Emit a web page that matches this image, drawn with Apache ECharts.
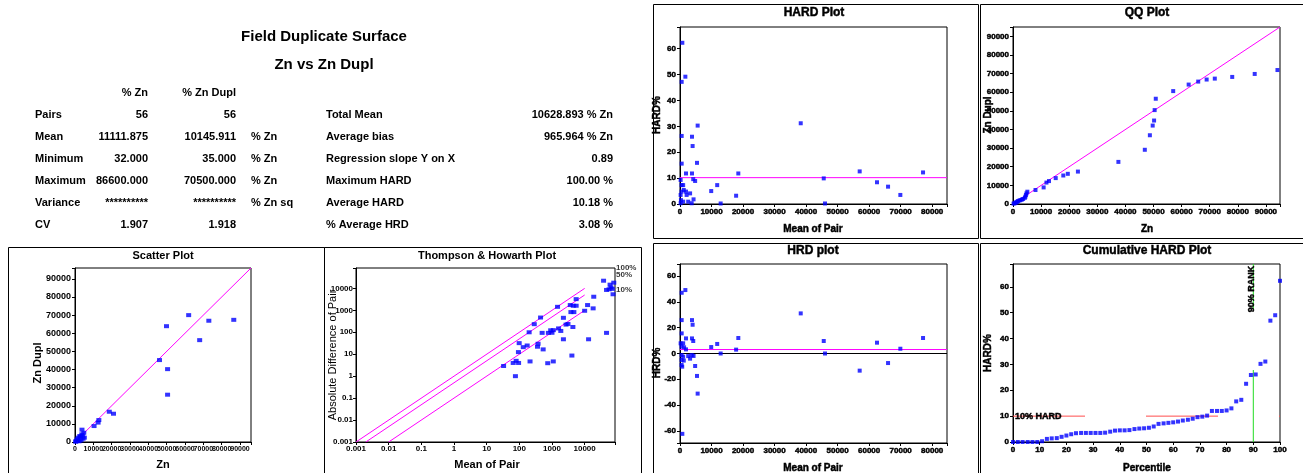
<!DOCTYPE html>
<html>
<head>
<meta charset="utf-8">
<title>Field Duplicate Surface - Zn vs Zn Dupl</title>
<script src="https://cdn.jsdelivr.net/npm/echarts@6/dist/echarts.min.js"></script>
<style>
  html, body { margin: 0; padding: 0; background: #fff; }
  #chart { width: 1303px; height: 473px; }
</style>
</head>
<body>
<div id="chart"></div>
<script>
// ---------- summary statistics ----------
const averageHARD = 10.18;
const averageHRD = 3.08;
const statHeaders = ['% Zn', '% Zn Dupl'];
const statLabels = ['Pairs', 'Mean', 'Minimum', 'Maximum', 'Variance', 'CV'];
const statZn = ['56', '11111.875', '32.000', '86600.000', '**********', '1.907'];
const statZnDupl = ['56', '10145.911', '35.000', '70500.000', '**********', '1.918'];
const statUnits = ['', '% Zn', '% Zn', '% Zn', '% Zn sq', ''];
const summaryLabels = ['Total Mean', 'Average bias', 'Regression slope Y on X', 'Maximum HARD', 'Average HARD', '% Average HRD'];
const summaryValues = ['10628.893 % Zn', '965.964 % Zn', '0.89', '100.00 %', averageHARD.toFixed(2) + ' %', averageHRD.toFixed(2) + ' %'];

// ---------- axis extents ----------
const scatterMax = 96000;
const thompsonMin = 0.001, thompsonMax = 85000;
const meanMax = 84700;
const hardMax = 68.4;
const qqMax = 95000;
const hrdLimit = 69.4;
const cumMax = 68.8;

// ---------- scatter plot: [Zn, Zn Dupl] ----------
const scatterPairs = [
  [62000, 70000], [49900, 63900], [73000, 66900], [86600, 67400], [68000, 56200],
  [46100, 45200], [50500, 40200], [50500, 26100], [18700, 16700], [21000, 15600],
  [13000, 12100], [12600, 10700], [10400, 8800], [3800, 6800], [4800, 5100],
  [5100, 2400], [1800, 2400], [2600, 3300], [3700, 4200], [1100, 1500],
  [550, 550], [4400, 1800], [3300, 900], [400, 100], [2200, 400],
  [3000, 2800], [4200, 3600], [1500, 700]
];
const scatterDiagonal = [[0, 0], [scatterMax, scatterMax]];

// ---------- Thompson & Howarth: [mean of pair, absolute difference] ----------
const thompsonPairs = [
  [33, 2.9], [76, 1.0], [65, 4.0], [80, 5.0], [95, 4.0], [99, 32], [94, 12.5],
  [132, 21], [174, 25], [200, 100], [213, 4.7], [287, 234], [360, 22], [375, 30],
  [447, 470], [500, 94], [537, 16.6], [741, 3.9], [776, 94], [912, 123], [1000, 95],
  [1100, 125], [1096, 4.7], [1480, 1445], [1590, 150], [1862, 115], [2240, 457],
  [2240, 48], [2690, 224], [3090, 240], [3630, 1740], [3800, 832], [4070, 8.7],
  [4365, 174], [4677, 832], [4500, 1620], [5500, 1620], [5500, 3240], [10000, 955],
  [12300, 1740], [13200, 48], [18200, 1230], [19000, 4170], [38000, 22400],
  [46800, 94], [46800, 8500], [56000, 9100], [60000, 14800], [64000, 11000],
  [74000, 5400], [78000, 18200], [70000, 9500]
];
const precisionLines = [
  [[0.001, 0.001], [10000, 10000]],
  [[0.002, 0.001], [10000, 5000]],
  [[0.01, 0.001], [10000, 1000]]
];
const precisionNames = ['100%', '50%', '10%'];
const precisionAnchors = [[85000, 85000], [85000, 42500], [85000, 8500]];

// ---------- HARD plot: [mean of pair, HARD %] ----------
const hardPairs = [
  [740, 62.3], [530, 47.2], [1700, 49.2], [530, 26.3], [530, 15.6], [5600, 30.3],
  [3800, 26.0], [4000, 22.4], [5400, 15.9], [1900, 11.8], [3800, 11.8], [4200, 9.6],
  [4800, 8.9], [9900, 5.0], [11800, 7.3], [12900, 0.2], [17800, 3.2], [18500, 11.8],
  [38300, 31.2], [45600, 9.9], [46000, 0.2], [57000, 12.6], [62500, 8.4], [66000, 6.7],
  [69900, 3.5], [77100, 12.2], [4300, 1.8], [3200, 4.1], [200, 9.3], [500, 7.3],
  [1000, 7.3], [1200, 5.4], [500, 4.8], [1900, 4.8], [200, 3.5], [2100, 3.5],
  [300, 1.5], [1000, 0.9], [2600, 0.9], [200, 0.3], [3700, 0.3]
];

// ---------- QQ plot: [Zn quantile, Zn Dupl quantile] ----------
const qqPairs = [
  [94100, 71900], [86000, 69800], [78000, 68200], [71800, 67300], [68900, 66800],
  [65900, 65700], [62500, 64100], [57000, 60600], [50800, 56500], [50400, 50400],
  [50200, 44800], [49700, 42100], [48700, 36900], [46900, 29100], [37500, 22600],
  [23100, 17400], [19500, 16200], [17900, 15300], [15200, 13900], [12800, 12300],
  [11900, 11500], [10900, 8900], [8000, 7500], [5100, 6600], [4800, 5700],
  [4600, 4800], [4400, 3900], [4200, 3300], [3600, 2700], [3200, 2400],
  [2700, 2100], [2300, 1900], [1800, 1600], [1500, 1200], [1200, 900],
  [900, 700], [600, 400], [200, 200]
];
const qqDiagonal = [[0, 0], [qqMax, qqMax]];

// ---------- HRD plot: [mean of pair, HRD %] ----------
const hrdPairs = [
  [530, 47.1], [1700, 49.2], [530, 25.9], [530, 15.6], [3800, 25.9], [4000, 22.3],
  [3800, 11.7], [4200, 9.7], [1900, 11.7], [9900, 5.0], [11800, 7.4], [12900, 0],
  [17800, 3.0], [18500, 12.0], [38300, 31.1], [45600, 9.7], [46000, 0], [57000, -13.3],
  [62500, 8.4], [66000, -7.4], [69900, 3.7], [77100, 12.0], [4800, -9.7], [5400, -17.4],
  [5600, -31.1], [740, -62.3], [3200, -4.0], [4300, -1.9], [200, 7.9], [1000, 7.9],
  [500, 5.3], [1300, 4.8], [1900, 3.2], [500, -1.2], [1000, -2.5], [500, -5],
  [1200, -5.5], [500, -8.9], [700, -10.2], [2600, -2], [3700, -1.2]
];

// ---------- cumulative HARD: [percentile, HARD %] ----------
const cumPercentile = [
  0, 1.8, 3.6, 5.5, 7.3, 9.1, 10.9, 12.7, 14.5, 16.4, 18.2, 20, 21.8, 23.6,
  25.5, 27.3, 29.1, 30.9, 32.7, 34.5, 36.4, 38.2, 40, 41.8, 43.6, 45.5, 47.3, 49.1,
  50.9, 52.7, 54.5, 56.4, 58.2, 60, 61.8, 63.6, 65.5, 67.3, 69.1, 70.9, 72.7, 74.5,
  76.4, 78.2, 80, 81.8, 83.6, 85.5, 87.3, 89.1, 90.9, 92.7, 94.5, 96.4, 98.2, 100
];
const cumHARD = [
  0, 0, 0, 0, 0, 0, 0.3, 1.2, 1.4, 1.5, 2.0, 2.5, 3.0, 3.4,
  3.5, 3.5, 3.5, 3.5, 3.5, 3.6, 4.0, 4.4, 4.5, 4.5, 4.6, 5.0, 5.2, 5.3,
  5.5, 6.0, 7.0, 7.2, 7.4, 7.6, 7.9, 8.3, 8.6, 9.0, 9.6, 9.8, 10.2, 12.0,
  12.0, 12.0, 12.2, 13.0, 15.7, 16.3, 22.5, 25.9, 26.1, 30.2, 31.1, 46.9, 49.0, 62.3
];
const hardThreshold = 10;
const rankThreshold = 90;

// ---------- drawing ----------
const FONT = '"Liberation Sans", Arial, sans-serif';
const BLUE = '#0000ff';
const MAGENTA = '#ff00ff';

function label(x, y, s, o) {
  o = o || {};
  return {
    type: 'text', x: x, y: y, rotation: o.rot || 0, z: 100, silent: true,
    style: {
      text: s,
      font: (o.weight || 'bold') + ' ' + (o.size || 11) + 'px ' + FONT,
      fill: '#000',
      textAlign: o.align || 'left',
      textVerticalAlign: 'middle',
      stroke: o.heavy ? '#000' : null,
      lineWidth: o.heavy ? 0.45 : 0
    }
  };
}

function box(x, y, w, h) {
  return {
    type: 'rect', z: 90, silent: true,
    shape: { x: x + 0.5, y: y + 0.5, width: w, height: h },
    style: { fill: 'none', stroke: '#000', lineWidth: 1 }
  };
}

function stepFormatter(step) {
  return function (v) {
    return Math.abs(v / step - Math.round(v / step)) < 1e-9 ? String(Math.round(v)) : '';
  };
}

function logFormatter(v) {
  const l = Math.log10(v);
  const r = Math.round(l);
  if (Math.abs(l - r) > 1e-6) return '';
  return r >= 0 ? String(Math.pow(10, r)) : Math.pow(10, r).toFixed(-r);
}

function axis(type, grid, min, max, o) {
  const a = {
    type: type, gridIndex: grid, min: min, max: max,
    axisLine: { show: true, onZero: false, lineStyle: { color: '#000', width: 1 } },
    axisTick: { show: true, inside: false, length: 3, lineStyle: { color: '#000', width: 1 } },
    minorTick: { show: false },
    splitLine: { show: false },
    axisLabel: {
      show: true, color: '#000', fontFamily: FONT, fontWeight: 'bold',
      fontSize: o.fontSize || 8, margin: o.margin || 4, formatter: o.formatter,
      textBorderColor: o.heavy ? '#000' : 'transparent', textBorderWidth: o.heavy ? 0.45 : 0
    }
  };
  if (o.interval) a.interval = o.interval;
  if (o.splitNumber) a.splitNumber = o.splitNumber;
  if (type === 'log') a.logBase = 10;
  return a;
}

function points(xi, data, size) {
  return {
    type: 'scatter', xAxisIndex: xi, yAxisIndex: xi, data: data,
    symbol: 'rect', symbolSize: size, itemStyle: { color: BLUE }, z: 5, silent: true
  };
}

function refLine(xi, data, color, dash, z) {
  return {
    type: 'line', xAxisIndex: xi, yAxisIndex: xi, data: data, symbol: 'none',
    lineStyle: { color: color, width: 1, type: dash || 'solid' }, z: z || 3, silent: true
  };
}

const gridBase = { show: true, borderColor: '#000', borderWidth: 1, backgroundColor: 'transparent', containLabel: false };
const grids = [
  { left: 75, top: 268, width: 176, height: 174 },
  { left: 356, top: 268, width: 259, height: 174 },
  { left: 680, top: 27, width: 267, height: 177 },
  { left: 1013, top: 27, width: 267, height: 177 },
  { left: 680, top: 264, width: 267, height: 179 },
  { left: 1013, top: 264, width: 267, height: 178 }
].map(g => Object.assign({}, gridBase, g));

const xAxes = [
  axis('value', 0, 0, scatterMax, { interval: 10000, fontSize: 7, margin: 4, formatter: stepFormatter(10000) }),
  axis('log', 1, thompsonMin, thompsonMax, { splitNumber: 8, fontSize: 8, margin: 3, formatter: logFormatter }),
  axis('value', 2, 0, meanMax, { interval: 10000, margin: 4, heavy: true, formatter: stepFormatter(10000) }),
  axis('value', 3, 0, qqMax, { interval: 10000, margin: 4, heavy: true, formatter: stepFormatter(10000) }),
  axis('value', 4, 0, meanMax, { interval: 10000, margin: 4, heavy: true, formatter: stepFormatter(10000) }),
  axis('value', 5, 0, 100, { interval: 10, margin: 4, heavy: true, formatter: stepFormatter(10) })
];
const yAxes = [
  axis('value', 0, 0, scatterMax, { interval: 10000, fontSize: 9, margin: 4, formatter: stepFormatter(10000) }),
  axis('log', 1, thompsonMin, thompsonMax, { splitNumber: 8, fontSize: 8, margin: 3, formatter: logFormatter }),
  axis('value', 2, 0, hardMax, { interval: 10, margin: 4, heavy: true, formatter: stepFormatter(10) }),
  axis('value', 3, 0, qqMax, { interval: 10000, margin: 4, heavy: true, formatter: stepFormatter(10000) }),
  axis('value', 4, -hrdLimit, hrdLimit, { splitNumber: 7, margin: 4, heavy: true, formatter: stepFormatter(20) }),
  axis('value', 5, 0, cumMax, { interval: 10, margin: 4, heavy: true, formatter: stepFormatter(10) })
];

const series = [];
// scatter plot
series.push(refLine(0, scatterDiagonal, MAGENTA));
series.push(points(0, scatterPairs, [5, 4]));
// Thompson & Howarth
precisionLines.forEach(l => series.push(refLine(1, l, MAGENTA)));
series.push(points(1, thompsonPairs, [5, 4]));
series.push({
  type: 'scatter', xAxisIndex: 1, yAxisIndex: 1, symbolSize: 0, clip: false, silent: true,
  data: precisionAnchors.map((p, i) => ({ value: p, name: precisionNames[i] })),
  label: {
    show: true, position: 'right', distance: 1, formatter: '{b}',
    color: '#000', fontFamily: FONT, fontWeight: 'bold', fontSize: 8
  }
});
// HARD plot: average HARD reference
series.push(refLine(2, [[0, averageHARD], [meanMax, averageHARD]], MAGENTA));
series.push(points(2, hardPairs, [4, 4]));
// QQ plot
series.push(refLine(3, qqDiagonal, MAGENTA));
series.push(points(3, qqPairs, [4, 4]));
// HRD plot: zero line and average HRD reference
series.push(refLine(4, [[0, 0], [meanMax, 0]], '#000'));
series.push(refLine(4, [[0, averageHRD], [meanMax, averageHRD]], MAGENTA));
series.push(points(4, hrdPairs, [4, 4]));
// cumulative HARD with 10% HARD and 90% rank guides (dashes run from the origin)
series.push(refLine(5, [[0, hardThreshold], [100, hardThreshold]], '#ff4d4d', [72, 61], 2));
series.push(refLine(5, [[rankThreshold, 0], [rankThreshold, cumMax]], '#22dd22', [72, 61], 2));
series.push(points(5, cumPercentile.map((p, i) => [p, cumHARD[i]]), [4, 4]));

// text: headings, statistics table, panel titles and axis names
const graphics = [];
graphics.push(label(324, 37, 'Field Duplicate Surface', { size: 15, align: 'center' }));
graphics.push(label(324, 65, 'Zn vs Zn Dupl', { size: 15, align: 'center' }));
graphics.push(label(148, 93, statHeaders[0], { align: 'right' }));
graphics.push(label(236, 93, statHeaders[1], { align: 'right' }));
statLabels.forEach((s, i) => {
  const y = 115 + i * 22;
  graphics.push(label(35, y, s));
  graphics.push(label(148, y, statZn[i], { align: 'right' }));
  graphics.push(label(236, y, statZnDupl[i], { align: 'right' }));
  if (statUnits[i]) graphics.push(label(251, y, statUnits[i]));
});
summaryLabels.forEach((s, i) => {
  const y = 115 + i * 22;
  graphics.push(label(326, y, s));
  graphics.push(label(613, y, summaryValues[i], { align: 'right' }));
});

// panel frames
graphics.push(box(8, 247, 316, 240));
graphics.push(box(324, 247, 317, 240));
graphics.push(box(653, 4, 325, 234));
graphics.push(box(980, 4, 340, 234));
graphics.push(box(653, 243, 325, 240));
graphics.push(box(980, 243, 340, 240));

// left panels
graphics.push(label(163, 256, 'Scatter Plot', { align: 'center' }));
graphics.push(label(38, 363, 'Zn Dupl', { align: 'center', rot: Math.PI / 2 }));
graphics.push(label(163, 465, 'Zn', { align: 'center' }));
graphics.push(label(487, 256, 'Thompson & Howarth Plot', { align: 'center' }));
graphics.push(label(333, 355, 'Absolute Difference of Pair', { align: 'center', rot: Math.PI / 2, weight: 'normal' }));
graphics.push(label(487, 465, 'Mean of Pair', { align: 'center' }));

// right panels
const H = { heavy: true, align: 'center' };
graphics.push(label(814, 13, 'HARD Plot', Object.assign({ size: 12 }, H)));
graphics.push(label(1147, 13, 'QQ Plot', Object.assign({ size: 12 }, H)));
graphics.push(label(813, 251, 'HRD plot', Object.assign({ size: 12 }, H)));
graphics.push(label(1147, 251, 'Cumulative HARD Plot', Object.assign({ size: 12 }, H)));
graphics.push(label(657, 115, 'HARD%', Object.assign({ size: 10, rot: Math.PI / 2 }, H)));
graphics.push(label(813, 229, 'Mean of Pair', Object.assign({ size: 10 }, H)));
graphics.push(label(988, 115, 'Zn Dupl', Object.assign({ size: 10, rot: Math.PI / 2 }, H)));
graphics.push(label(1147, 229, 'Zn', Object.assign({ size: 10 }, H)));
graphics.push(label(657, 363, 'HRD%', Object.assign({ size: 10, rot: Math.PI / 2 }, H)));
graphics.push(label(813, 468, 'Mean of Pair', Object.assign({ size: 10 }, H)));
graphics.push(label(988, 353, 'HARD%', Object.assign({ size: 10, rot: Math.PI / 2 }, H)));
graphics.push(label(1147, 468, 'Percentile', Object.assign({ size: 10 }, H)));
graphics.push(label(1015, 417, hardThreshold + '% HARD', { size: 9, heavy: true }));
graphics.push(label(1252, 289, rankThreshold + '% RANK', { size: 9, heavy: true, align: 'center', rot: Math.PI / 2 }));

const chart = echarts.init(document.getElementById('chart'), null, { renderer: 'canvas' });
chart.setOption({
  animation: false,
  backgroundColor: '#fff',
  grid: grids,
  xAxis: xAxes,
  yAxis: yAxes,
  series: series,
  graphic: graphics
});
</script>
</body>
</html>
